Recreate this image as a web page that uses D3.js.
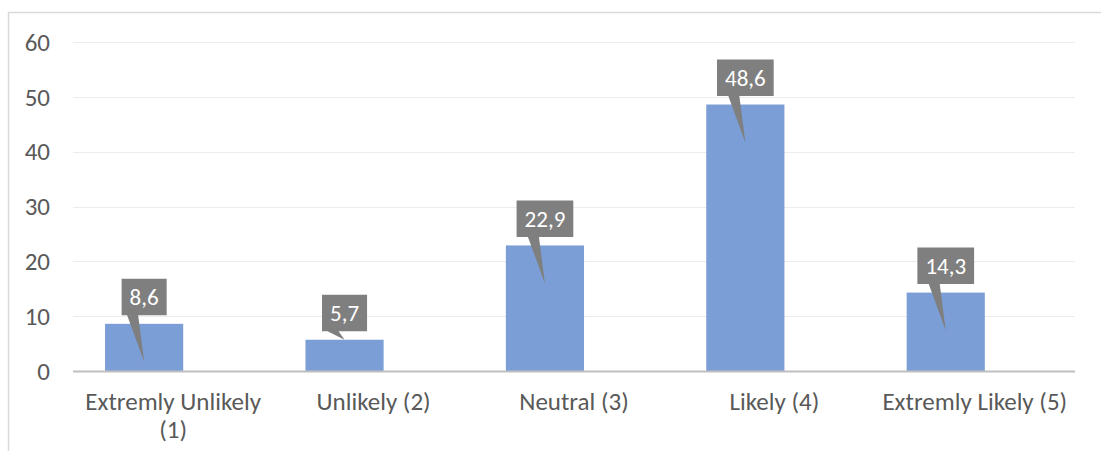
<!DOCTYPE html>
<meta charset="utf-8">
<style>
body { margin: 0; background: #fff; }
svg { font-family: Calibri, Carlito, "Open Sans", sans-serif; }
.grid line { stroke: #ececec; stroke-width: 1; }
.tick-label { fill: #595959; font-size: 25px; }
.cat-label { fill: #595959; font-size: 25px; }
.bar { fill: #7b9ed6; }
.callout { fill: #7f7f7f; }
.callout-text { fill: #fff; font-size: 23px; }
</style>
<svg width="1101" height="451"></svg>
<script src="https://d3js.org/d3.v7.min.js"></script>
<script>

// data
var categories = ["Extremly Unlikely (1)", "Unlikely (2)", "Neutral (3)", "Likely (4)", "Extremly Likely (5)"];
var values = [8.6, 5.7, 22.9, 48.6, 14.3];
var valueLabels = ["8,6", "5,7", "22,9", "48,6", "14,3"];
var yTicks = [0, 10, 20, 30, 40, 50, 60];

var svg = d3.select("svg");

// outer chart border (runs off the right and bottom of the picture)
svg.append("rect")
    .attr("x", 8.5).attr("y", 12.5)
    .attr("width", 1200).attr("height", 500)
    .attr("fill", "none")
    .attr("stroke", "#d9d9d9")
    .attr("stroke-width", 1.5);

var plot = {left: 73, right: 1075, top: 42, bottom: 371};

var x = d3.scaleBand()
    .domain(categories)
    .range([plot.left, plot.right])
    .padding(0);

var y = d3.scaleLinear()
    .domain([0, 60])
    .range([plot.bottom, plot.top]);

// gridlines
svg.append("g").attr("class", "grid")
  .selectAll("line")
  .data(yTicks.filter(function(d) { return d > 0; }))
  .enter().append("line")
    .attr("x1", plot.left).attr("x2", plot.right)
    .attr("y1", function(d) { return Math.round(y(d)) + 0.5; })
    .attr("y2", function(d) { return Math.round(y(d)) + 0.5; });

// y tick labels
svg.append("g")
  .selectAll("text")
  .data(yTicks)
  .enter().append("text")
    .attr("class", "tick-label")
    .attr("x", plot.left - 23)
    .attr("y", function(d) { return y(d); })
    .attr("dy", "0.35em")
    .attr("text-anchor", "end")
    .text(function(d) { return d; });

var bw = x.bandwidth();
// bars sit in the left part of each category (empty 2nd series in the original)
var barOff = bw * 0.16, barW = bw * 0.39;

svg.append("g")
  .selectAll("rect")
  .data(values)
  .enter().append("rect")
    .attr("class", "bar")
    .attr("x", function(d, i) { return x(categories[i]) + barOff; })
    .attr("y", function(d) { return y(d); })
    .attr("width", barW)
    .attr("height", function(d) { return y(0) - y(d); });

// x axis line
svg.append("line")
    .attr("x1", plot.left).attr("x2", plot.right)
    .attr("y1", plot.bottom + 0.5).attr("y2", plot.bottom + 0.5)
    .attr("stroke", "#bfbfbf")
    .attr("stroke-width", 2);

// category labels, wrapped when wider than the band
var cats = svg.append("g")
  .selectAll("text")
  .data(categories)
  .enter().append("text")
    .attr("class", "cat-label")
    .attr("text-anchor", "middle")
    .attr("x", function(d) { return x(d) + bw / 2; })
    .attr("y", 410);

cats.each(function(d) {
  var t = d3.select(this);
  t.text(d);
  if (this.getComputedTextLength() > bw) {
    var words = d.split(" ");
    var last = words.pop();
    t.text(null);
    t.append("tspan").attr("x", x(d) + bw / 2).text(words.join(" "));
    t.append("tspan").attr("x", x(d) + bw / 2).attr("dy", 28).text(last);
  }
});

// data callouts
var callouts = svg.append("g")
  .selectAll("g")
  .data(values)
  .enter().append("g");

callouts.each(function(d, i) {
  var g = d3.select(this);
  var cx = x(categories[i]) + barOff + barW / 2;
  var top = y(d);
  var boxBottom = top - 8.5, boxH = 36.5;
  g.append("text")
      .attr("class", "callout-text")
      .attr("x", cx)
      .attr("y", boxBottom - boxH / 2)
      .attr("dy", "0.35em")
      .attr("text-anchor", "middle")
      .text(valueLabels[i]);
  var w = this.querySelector("text").getComputedTextLength() + 16;
  // pointer tip goes into the bar when the bar is tall enough
  var tipY = (y(0) - top) > 40 ? top + 38 : top;
  g.insert("path", "text")
      .attr("class", "callout")
      .attr("d", "M" + (cx - w / 2) + "," + (boxBottom - boxH) +
                 "H" + (cx + w / 2) +
                 "V" + boxBottom +
                 "H" + (cx - 6) +
                 "L" + cx + "," + tipY +
                 "L" + (cx - 17) + "," + boxBottom +
                 "H" + (cx - w / 2) + "Z");
});

</script>
